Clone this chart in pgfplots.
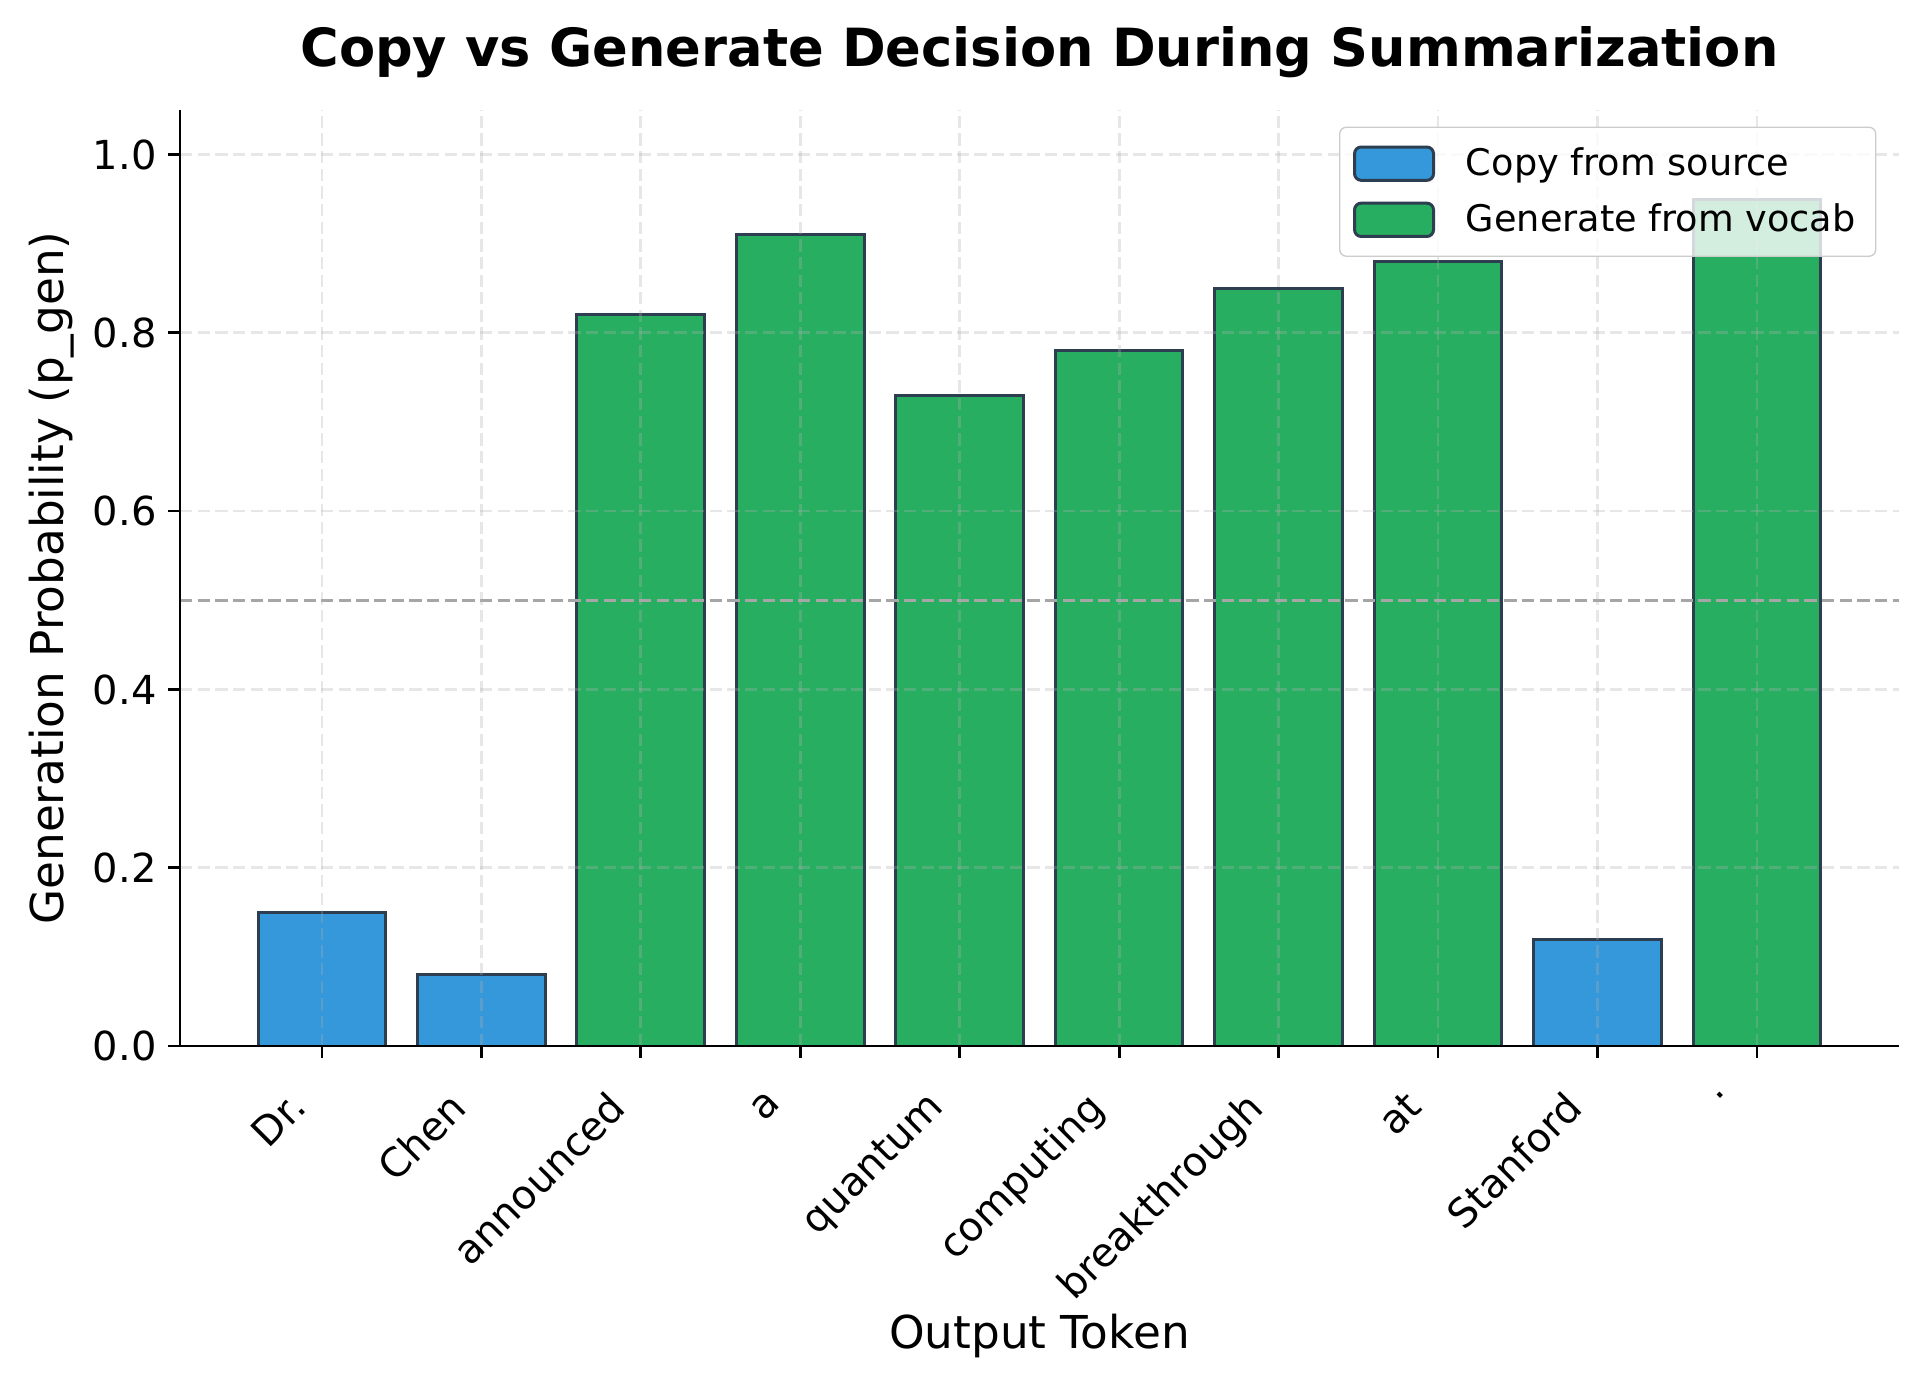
\documentclass[border=0pt]{standalone}
\usepackage{pgfplots}
\pgfplotsset{compat=1.18}
\usepackage{fontspec}
\setmainfont{DejaVu Sans}
\definecolor{copyblue}{HTML}{3498DB}
\definecolor{gengreen}{HTML}{27AE60}
\definecolor{edgec}{HTML}{2C3E50}
\begin{document}
\begin{tikzpicture}
\begin{axis}[
  scale only axis,
  width=516pt, height=281pt,
  xmin=-0.89, xmax=9.89,
  ymin=0, ymax=1.05,
  axis lines*=left,
  axis line style={line width=0.8pt},
  ytick={0,0.2,0.4,0.6,0.8,1.0},
  yticklabel style={/pgf/number format/fixed,/pgf/number format/fixed zerofill,/pgf/number format/precision=1},
  /pgf/number format/assume math mode=true,
  xtick={0,1,2,3,4,5,6,7,8,9},
  xticklabels={Dr.,Chen,announced,a,quantum,computing,breakthrough,at,Stanford,.},
  xticklabel style={rotate=45, anchor=north east, font=\fontsize{12}{14}\selectfont, inner sep=1pt, xshift=-12.8pt, yshift=1.8pt},
  yticklabel style={font=\fontsize{12}{14}\selectfont},
  tick style={black, line width=0.8pt},
  major tick length=3.5pt,
  tick align=outside,
  xmajorgrids, ymajorgrids,
  grid style={black!31, opacity=0.3, dash pattern=on 3.7pt off 1.6pt, line width=0.8pt},
  axis on top,
  xlabel={Output Token},
  ylabel={Generation Probability (p\_gen)},
  label style={font=\fontsize{13.6}{16}\selectfont},
  ylabel shift=-1.2pt,
  xlabel shift=-3pt,
  title={\textbf{Copy vs Generate Decision During Summarization}},
  title style={font=\fontsize{15.8}{18}\selectfont, yshift=0pt},
  legend style={at={(1,1)}, anchor=north east, xshift=-6.8pt, yshift=-5pt,
    draw=black!20, fill=white, fill opacity=0.8, text opacity=1, rounded corners=2pt,
    font=\fontsize{11}{13}\selectfont, row sep=3pt, inner sep=4pt},
  legend cell align=left,
  legend image code/.code={\draw[#1, fill opacity=1, draw opacity=1] (0pt,-5pt) rectangle (23.7pt,5pt); \path (31pt,0pt);},
]
\addplot[ybar, bar width=0.8, bar shift=0pt, fill=copyblue, draw=edgec, line width=0.9pt]
  coordinates {(0,0.15) (1,0.08) (8,0.12)};
\addlegendentry{Copy from source}
\addplot[ybar, bar width=0.8, bar shift=0pt, fill=gengreen, draw=edgec, line width=0.9pt]
  coordinates {(2,0.82) (3,0.91) (4,0.73) (5,0.78) (6,0.85) (7,0.88) (9,0.95)};
\addlegendentry{Generate from vocab}
\addplot[gray!70, dash pattern=on 3.7pt off 1.6pt, line width=0.9pt, forget plot] coordinates {(-0.89,0.5) (9.89,0.5)};
\end{axis}
\pgfresetboundingbox
\path (current axis.south west) ++(-54pt,-100pt) coordinate (bl);
\path (current axis.north east) ++(6.3pt,33pt) coordinate (tr);
\path (bl) rectangle (tr);
\end{tikzpicture}
\end{document}
